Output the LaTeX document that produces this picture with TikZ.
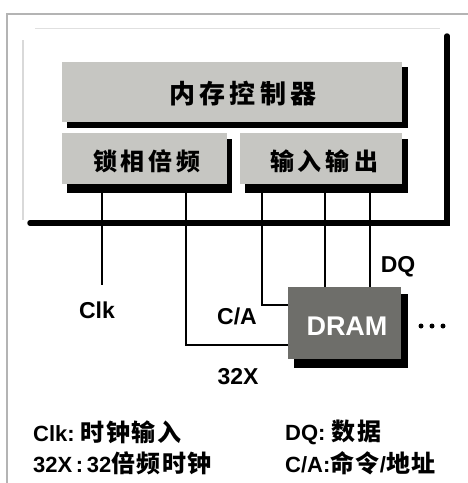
\documentclass[tikz,border=0pt]{standalone}
\usepackage{fontspec}
\setmainfont{Liberation Sans}
\newfontfamily\cjk{Noto Sans CJK SC}
\newcommand\legcjk[1]{{\fontsize{24}{26}\selectfont\cjk\bfseries #1}}
\newcommand\gp{\hspace{1.5pt}}
\definecolor{boxgray}{HTML}{C6C6C2}
\definecolor{dramgray}{HTML}{6E6E6A}
\definecolor{framegray}{HTML}{B4B4B4}
\tikzset{
  wire/.style={line width=2pt, black},
  lbl/.style={font=\fontsize{23}{25}\selectfont\bfseries, inner sep=0pt},
  cjklbl/.style={font=\fontsize{24}{26}\selectfont\cjk\bfseries, inner sep=0pt},
  legend/.style={font=\fontsize{22}{24}\selectfont\bfseries, inner sep=0pt, anchor=west},
  dot/.style={fill=black, circle, inner sep=0pt, minimum size=5pt},
}
\begin{document}
\begin{tikzpicture}[x=1pt,y=-1pt]
\useasboundingbox (0,0) rectangle (468,483);
\fill[white] (0,0) rectangle (468,483);
% outer frame
\draw[framegray, line width=1.8pt] (7,483) -- (7,14) -- (468,14);
% chip frame
\draw[black!12, line width=1pt] (35,28) -- (440,28);
\draw[black!15, line width=1.5pt] (23,40) -- (23,220);
\draw[black, line width=5.5pt, line cap=round] (447,36) -- (447,223) -- (30,223);
% memory controller
\fill[black] (67,67) rectangle (408,128);
\fill[boxgray] (62,62) rectangle (402,122);
\node[cjklbl, font=\fontsize{26}{28}\selectfont\cjk\bfseries] (mc) at (243,94) {内\,存\,控\,制\,器};
% PLL
\fill[black] (67,139) rectangle (232,193);
\fill[boxgray] (62,133) rectangle (227,184);
\node[cjklbl] (pll) at (147,161) {锁\,相\,倍\,频};
% IO
\fill[black] (245,139) rectangle (408,193);
\fill[boxgray] (240,133) rectangle (402,184);
\node[cjklbl] (io) at (324,161) {输\,入\,输\,出};
% DRAM
\fill[black] (294,294) rectangle (408,368);
\fill[dramgray] (288,287) rectangle (401,359);
\node[font=\fontsize{27}{29}\selectfont\bfseries, text=white, inner sep=0pt] (dram) at (347,326) {DRAM};
% coordinates
\coordinate (p1) at (102,193);
\coordinate (p2) at (186,193);
\coordinate (p3) at (262,193);
\coordinate (p4) at (325,193);
\coordinate (p5) at (370,193);
\coordinate (clkend) at (102,285);
\coordinate (d1) at (288,345);
\coordinate (d2) at (288,305);
\coordinate (d3) at (325,287);
\coordinate (d4) at (370,287);
\draw[wire] (p1) -- (clkend);
\draw[wire] (p2) |- (d1);
\draw[wire] (p3) |- (d2);
\draw[wire] (p4) -- (d3);
\draw[wire] (p5) -- (d4);
% labels
\node[lbl] (clk) at (97,310) {Clk};
\node[lbl] (ca) at (237,316) {C/A};
\node[lbl] (x32) at (238,377) {32X};
\node[lbl] (dq) at (398,267) {DQ};
\node[dot] (dt1) at (421,326) {};
\node[dot] (dt2) at (432,326) {};
\node[dot] (dt3) at (443,326) {};
% legend
\node[legend] (l1) at (33,432) {Clk:\ \legcjk{时\gp 钟\gp 输\gp 入}};
\node[legend] (l2) at (33,463) {32X\,:\,32\legcjk{倍\gp 频\gp 时\gp 钟}};
\node[legend] (l3) at (285,432) {DQ:\ \legcjk{数\gp 据}};
\node[legend] (l4) at (285,463) {C/A:\legcjk{命\gp 令}/\legcjk{地\gp 址}};
\end{tikzpicture}
\end{document}
